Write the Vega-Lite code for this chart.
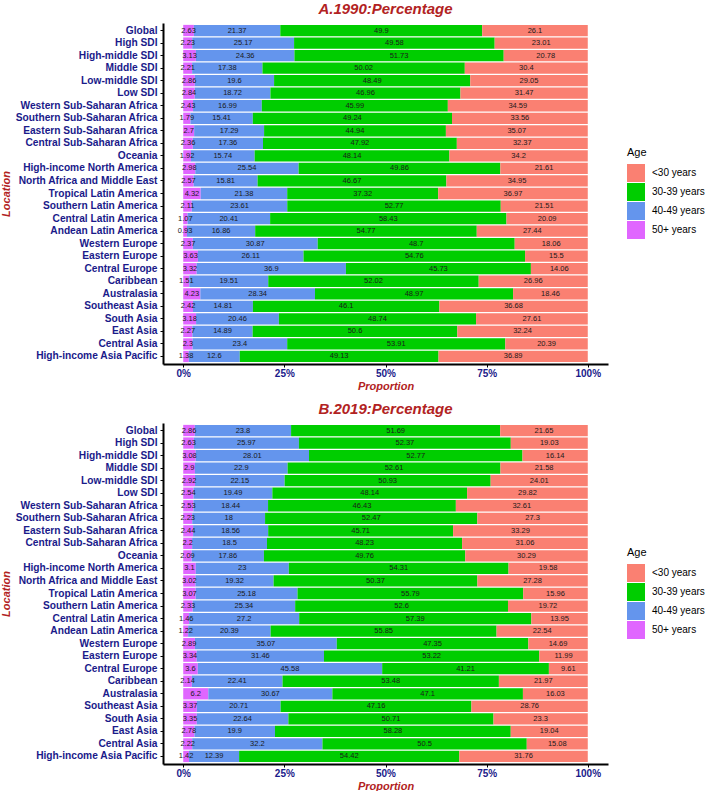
{
  "$schema": "https://vega.github.io/schema/vega-lite/v6.json",
  "background": "white",
  "padding": {"left": 0, "top": 2, "right": 0, "bottom": 0},
  "config": {
    "font": "Liberation Sans",
    "view": {"stroke": null},
    "concat": {"spacing": 11},
    "axis": {
      "grid": false,
      "domainColor": "black",
      "domainWidth": 2,
      "tickColor": "black",
      "tickSize": 3,
      "tickWidth": 1,
      "labelFont": "Liberation Sans",
      "labelFontWeight": "bold",
      "labelColor": "#1A1A8A",
      "labelFontSize": 10,
      "labelPadding": 2,
      "titleFont": "Liberation Sans",
      "titleFontSize": 11,
      "titleFontWeight": "bold",
      "titleFontStyle": "italic",
      "titleColor": "#B22222"
    },
    "axisX": {"labelPadding": 1, "titlePadding": 2},
    "axisY": {"titlePadding": 3, "labelPadding": 3, "labelFontSize": 10.2},
    "title": {"font": "Liberation Sans", "fontSize": 15, "fontWeight": "bold", "fontStyle": "italic", "color": "#B22222", "offset": 6},
    "legend": {
      "orient": "none",
      "legendX": 464,
      "legendY": 124,
      "titleFont": "Liberation Sans",
      "titleFontSize": 11,
      "titleFontWeight": "normal",
      "titleColor": "black",
      "titlePadding": 6,
      "labelFont": "Liberation Sans",
      "labelFontSize": 10,
      "labelColor": "black",
      "labelOffset": 7,
      "symbolType": "square",
      "symbolSize": 324,
      "symbolStrokeWidth": 0,
      "symbolOpacity": 1,
      "rowPadding": 1
    }
  },
  "datasets": {
    "y1990": [
      {"loc": "Global", "age": "50+ years", "pct": 2.63}, {"loc": "Global", "age": "40-49 years", "pct": 21.37}, {"loc": "Global", "age": "30-39 years", "pct": 49.9}, {"loc": "Global", "age": "<30 years", "pct": 26.1},
      {"loc": "High SDI", "age": "50+ years", "pct": 2.23}, {"loc": "High SDI", "age": "40-49 years", "pct": 25.17}, {"loc": "High SDI", "age": "30-39 years", "pct": 49.58}, {"loc": "High SDI", "age": "<30 years", "pct": 23.01},
      {"loc": "High-middle SDI", "age": "50+ years", "pct": 3.13}, {"loc": "High-middle SDI", "age": "40-49 years", "pct": 24.36}, {"loc": "High-middle SDI", "age": "30-39 years", "pct": 51.73}, {"loc": "High-middle SDI", "age": "<30 years", "pct": 20.78},
      {"loc": "Middle SDI", "age": "50+ years", "pct": 2.21}, {"loc": "Middle SDI", "age": "40-49 years", "pct": 17.38}, {"loc": "Middle SDI", "age": "30-39 years", "pct": 50.02}, {"loc": "Middle SDI", "age": "<30 years", "pct": 30.4},
      {"loc": "Low-middle SDI", "age": "50+ years", "pct": 2.86}, {"loc": "Low-middle SDI", "age": "40-49 years", "pct": 19.6}, {"loc": "Low-middle SDI", "age": "30-39 years", "pct": 48.49}, {"loc": "Low-middle SDI", "age": "<30 years", "pct": 29.05},
      {"loc": "Low SDI", "age": "50+ years", "pct": 2.84}, {"loc": "Low SDI", "age": "40-49 years", "pct": 18.72}, {"loc": "Low SDI", "age": "30-39 years", "pct": 46.96}, {"loc": "Low SDI", "age": "<30 years", "pct": 31.47},
      {"loc": "Western Sub-Saharan Africa", "age": "50+ years", "pct": 2.43}, {"loc": "Western Sub-Saharan Africa", "age": "40-49 years", "pct": 16.99}, {"loc": "Western Sub-Saharan Africa", "age": "30-39 years", "pct": 45.99}, {"loc": "Western Sub-Saharan Africa", "age": "<30 years", "pct": 34.59},
      {"loc": "Southern Sub-Saharan Africa", "age": "50+ years", "pct": 1.79}, {"loc": "Southern Sub-Saharan Africa", "age": "40-49 years", "pct": 15.41}, {"loc": "Southern Sub-Saharan Africa", "age": "30-39 years", "pct": 49.24}, {"loc": "Southern Sub-Saharan Africa", "age": "<30 years", "pct": 33.56},
      {"loc": "Eastern Sub-Saharan Africa", "age": "50+ years", "pct": 2.7}, {"loc": "Eastern Sub-Saharan Africa", "age": "40-49 years", "pct": 17.29}, {"loc": "Eastern Sub-Saharan Africa", "age": "30-39 years", "pct": 44.94}, {"loc": "Eastern Sub-Saharan Africa", "age": "<30 years", "pct": 35.07},
      {"loc": "Central Sub-Saharan Africa", "age": "50+ years", "pct": 2.36}, {"loc": "Central Sub-Saharan Africa", "age": "40-49 years", "pct": 17.36}, {"loc": "Central Sub-Saharan Africa", "age": "30-39 years", "pct": 47.92}, {"loc": "Central Sub-Saharan Africa", "age": "<30 years", "pct": 32.37},
      {"loc": "Oceania", "age": "50+ years", "pct": 1.92}, {"loc": "Oceania", "age": "40-49 years", "pct": 15.74}, {"loc": "Oceania", "age": "30-39 years", "pct": 48.14}, {"loc": "Oceania", "age": "<30 years", "pct": 34.2},
      {"loc": "High-income North America", "age": "50+ years", "pct": 2.98}, {"loc": "High-income North America", "age": "40-49 years", "pct": 25.54}, {"loc": "High-income North America", "age": "30-39 years", "pct": 49.86}, {"loc": "High-income North America", "age": "<30 years", "pct": 21.61},
      {"loc": "North Africa and Middle East", "age": "50+ years", "pct": 2.57}, {"loc": "North Africa and Middle East", "age": "40-49 years", "pct": 15.81}, {"loc": "North Africa and Middle East", "age": "30-39 years", "pct": 46.67}, {"loc": "North Africa and Middle East", "age": "<30 years", "pct": 34.95},
      {"loc": "Tropical Latin America", "age": "50+ years", "pct": 4.32}, {"loc": "Tropical Latin America", "age": "40-49 years", "pct": 21.38}, {"loc": "Tropical Latin America", "age": "30-39 years", "pct": 37.32}, {"loc": "Tropical Latin America", "age": "<30 years", "pct": 36.97},
      {"loc": "Southern Latin America", "age": "50+ years", "pct": 2.11}, {"loc": "Southern Latin America", "age": "40-49 years", "pct": 23.61}, {"loc": "Southern Latin America", "age": "30-39 years", "pct": 52.77}, {"loc": "Southern Latin America", "age": "<30 years", "pct": 21.51},
      {"loc": "Central Latin America", "age": "50+ years", "pct": 1.07}, {"loc": "Central Latin America", "age": "40-49 years", "pct": 20.41}, {"loc": "Central Latin America", "age": "30-39 years", "pct": 58.43}, {"loc": "Central Latin America", "age": "<30 years", "pct": 20.09},
      {"loc": "Andean Latin America", "age": "50+ years", "pct": 0.93}, {"loc": "Andean Latin America", "age": "40-49 years", "pct": 16.86}, {"loc": "Andean Latin America", "age": "30-39 years", "pct": 54.77}, {"loc": "Andean Latin America", "age": "<30 years", "pct": 27.44},
      {"loc": "Western Europe", "age": "50+ years", "pct": 2.37}, {"loc": "Western Europe", "age": "40-49 years", "pct": 30.87}, {"loc": "Western Europe", "age": "30-39 years", "pct": 48.7}, {"loc": "Western Europe", "age": "<30 years", "pct": 18.06},
      {"loc": "Eastern Europe", "age": "50+ years", "pct": 3.63}, {"loc": "Eastern Europe", "age": "40-49 years", "pct": 26.11}, {"loc": "Eastern Europe", "age": "30-39 years", "pct": 54.76}, {"loc": "Eastern Europe", "age": "<30 years", "pct": 15.5},
      {"loc": "Central Europe", "age": "50+ years", "pct": 3.32}, {"loc": "Central Europe", "age": "40-49 years", "pct": 36.9}, {"loc": "Central Europe", "age": "30-39 years", "pct": 45.73}, {"loc": "Central Europe", "age": "<30 years", "pct": 14.06},
      {"loc": "Caribbean", "age": "50+ years", "pct": 1.51}, {"loc": "Caribbean", "age": "40-49 years", "pct": 19.51}, {"loc": "Caribbean", "age": "30-39 years", "pct": 52.02}, {"loc": "Caribbean", "age": "<30 years", "pct": 26.96},
      {"loc": "Australasia", "age": "50+ years", "pct": 4.23}, {"loc": "Australasia", "age": "40-49 years", "pct": 28.34}, {"loc": "Australasia", "age": "30-39 years", "pct": 48.97}, {"loc": "Australasia", "age": "<30 years", "pct": 18.46},
      {"loc": "Southeast Asia", "age": "50+ years", "pct": 2.42}, {"loc": "Southeast Asia", "age": "40-49 years", "pct": 14.81}, {"loc": "Southeast Asia", "age": "30-39 years", "pct": 46.1}, {"loc": "Southeast Asia", "age": "<30 years", "pct": 36.68},
      {"loc": "South Asia", "age": "50+ years", "pct": 3.18}, {"loc": "South Asia", "age": "40-49 years", "pct": 20.46}, {"loc": "South Asia", "age": "30-39 years", "pct": 48.74}, {"loc": "South Asia", "age": "<30 years", "pct": 27.61},
      {"loc": "East Asia", "age": "50+ years", "pct": 2.27}, {"loc": "East Asia", "age": "40-49 years", "pct": 14.89}, {"loc": "East Asia", "age": "30-39 years", "pct": 50.6}, {"loc": "East Asia", "age": "<30 years", "pct": 32.24},
      {"loc": "Central Asia", "age": "50+ years", "pct": 2.3}, {"loc": "Central Asia", "age": "40-49 years", "pct": 23.4}, {"loc": "Central Asia", "age": "30-39 years", "pct": 53.91}, {"loc": "Central Asia", "age": "<30 years", "pct": 20.39},
      {"loc": "High-income Asia Pacific", "age": "50+ years", "pct": 1.38}, {"loc": "High-income Asia Pacific", "age": "40-49 years", "pct": 12.6}, {"loc": "High-income Asia Pacific", "age": "30-39 years", "pct": 49.13}, {"loc": "High-income Asia Pacific", "age": "<30 years", "pct": 36.89}
    ],
    "y2019": [
      {"loc": "Global", "age": "50+ years", "pct": 2.86}, {"loc": "Global", "age": "40-49 years", "pct": 23.8}, {"loc": "Global", "age": "30-39 years", "pct": 51.69}, {"loc": "Global", "age": "<30 years", "pct": 21.65},
      {"loc": "High SDI", "age": "50+ years", "pct": 2.63}, {"loc": "High SDI", "age": "40-49 years", "pct": 25.97}, {"loc": "High SDI", "age": "30-39 years", "pct": 52.37}, {"loc": "High SDI", "age": "<30 years", "pct": 19.03},
      {"loc": "High-middle SDI", "age": "50+ years", "pct": 3.08}, {"loc": "High-middle SDI", "age": "40-49 years", "pct": 28.01}, {"loc": "High-middle SDI", "age": "30-39 years", "pct": 52.77}, {"loc": "High-middle SDI", "age": "<30 years", "pct": 16.14},
      {"loc": "Middle SDI", "age": "50+ years", "pct": 2.9}, {"loc": "Middle SDI", "age": "40-49 years", "pct": 22.9}, {"loc": "Middle SDI", "age": "30-39 years", "pct": 52.61}, {"loc": "Middle SDI", "age": "<30 years", "pct": 21.58},
      {"loc": "Low-middle SDI", "age": "50+ years", "pct": 2.92}, {"loc": "Low-middle SDI", "age": "40-49 years", "pct": 22.15}, {"loc": "Low-middle SDI", "age": "30-39 years", "pct": 50.93}, {"loc": "Low-middle SDI", "age": "<30 years", "pct": 24.01},
      {"loc": "Low SDI", "age": "50+ years", "pct": 2.54}, {"loc": "Low SDI", "age": "40-49 years", "pct": 19.49}, {"loc": "Low SDI", "age": "30-39 years", "pct": 48.14}, {"loc": "Low SDI", "age": "<30 years", "pct": 29.82},
      {"loc": "Western Sub-Saharan Africa", "age": "50+ years", "pct": 2.53}, {"loc": "Western Sub-Saharan Africa", "age": "40-49 years", "pct": 18.44}, {"loc": "Western Sub-Saharan Africa", "age": "30-39 years", "pct": 46.43}, {"loc": "Western Sub-Saharan Africa", "age": "<30 years", "pct": 32.61},
      {"loc": "Southern Sub-Saharan Africa", "age": "50+ years", "pct": 2.23}, {"loc": "Southern Sub-Saharan Africa", "age": "40-49 years", "pct": 18}, {"loc": "Southern Sub-Saharan Africa", "age": "30-39 years", "pct": 52.47}, {"loc": "Southern Sub-Saharan Africa", "age": "<30 years", "pct": 27.3},
      {"loc": "Eastern Sub-Saharan Africa", "age": "50+ years", "pct": 2.44}, {"loc": "Eastern Sub-Saharan Africa", "age": "40-49 years", "pct": 18.56}, {"loc": "Eastern Sub-Saharan Africa", "age": "30-39 years", "pct": 45.71}, {"loc": "Eastern Sub-Saharan Africa", "age": "<30 years", "pct": 33.29},
      {"loc": "Central Sub-Saharan Africa", "age": "50+ years", "pct": 2.2}, {"loc": "Central Sub-Saharan Africa", "age": "40-49 years", "pct": 18.5}, {"loc": "Central Sub-Saharan Africa", "age": "30-39 years", "pct": 48.23}, {"loc": "Central Sub-Saharan Africa", "age": "<30 years", "pct": 31.06},
      {"loc": "Oceania", "age": "50+ years", "pct": 2.09}, {"loc": "Oceania", "age": "40-49 years", "pct": 17.86}, {"loc": "Oceania", "age": "30-39 years", "pct": 49.76}, {"loc": "Oceania", "age": "<30 years", "pct": 30.29},
      {"loc": "High-income North America", "age": "50+ years", "pct": 3.1}, {"loc": "High-income North America", "age": "40-49 years", "pct": 23}, {"loc": "High-income North America", "age": "30-39 years", "pct": 54.31}, {"loc": "High-income North America", "age": "<30 years", "pct": 19.58},
      {"loc": "North Africa and Middle East", "age": "50+ years", "pct": 3.02}, {"loc": "North Africa and Middle East", "age": "40-49 years", "pct": 19.32}, {"loc": "North Africa and Middle East", "age": "30-39 years", "pct": 50.37}, {"loc": "North Africa and Middle East", "age": "<30 years", "pct": 27.28},
      {"loc": "Tropical Latin America", "age": "50+ years", "pct": 3.07}, {"loc": "Tropical Latin America", "age": "40-49 years", "pct": 25.18}, {"loc": "Tropical Latin America", "age": "30-39 years", "pct": 55.79}, {"loc": "Tropical Latin America", "age": "<30 years", "pct": 15.96},
      {"loc": "Southern Latin America", "age": "50+ years", "pct": 2.33}, {"loc": "Southern Latin America", "age": "40-49 years", "pct": 25.34}, {"loc": "Southern Latin America", "age": "30-39 years", "pct": 52.6}, {"loc": "Southern Latin America", "age": "<30 years", "pct": 19.72},
      {"loc": "Central Latin America", "age": "50+ years", "pct": 1.46}, {"loc": "Central Latin America", "age": "40-49 years", "pct": 27.2}, {"loc": "Central Latin America", "age": "30-39 years", "pct": 57.39}, {"loc": "Central Latin America", "age": "<30 years", "pct": 13.95},
      {"loc": "Andean Latin America", "age": "50+ years", "pct": 1.22}, {"loc": "Andean Latin America", "age": "40-49 years", "pct": 20.39}, {"loc": "Andean Latin America", "age": "30-39 years", "pct": 55.85}, {"loc": "Andean Latin America", "age": "<30 years", "pct": 22.54},
      {"loc": "Western Europe", "age": "50+ years", "pct": 2.89}, {"loc": "Western Europe", "age": "40-49 years", "pct": 35.07}, {"loc": "Western Europe", "age": "30-39 years", "pct": 47.35}, {"loc": "Western Europe", "age": "<30 years", "pct": 14.69},
      {"loc": "Eastern Europe", "age": "50+ years", "pct": 3.34}, {"loc": "Eastern Europe", "age": "40-49 years", "pct": 31.46}, {"loc": "Eastern Europe", "age": "30-39 years", "pct": 53.22}, {"loc": "Eastern Europe", "age": "<30 years", "pct": 11.99},
      {"loc": "Central Europe", "age": "50+ years", "pct": 3.6}, {"loc": "Central Europe", "age": "40-49 years", "pct": 45.58}, {"loc": "Central Europe", "age": "30-39 years", "pct": 41.21}, {"loc": "Central Europe", "age": "<30 years", "pct": 9.61},
      {"loc": "Caribbean", "age": "50+ years", "pct": 2.14}, {"loc": "Caribbean", "age": "40-49 years", "pct": 22.41}, {"loc": "Caribbean", "age": "30-39 years", "pct": 53.48}, {"loc": "Caribbean", "age": "<30 years", "pct": 21.97},
      {"loc": "Australasia", "age": "50+ years", "pct": 6.2}, {"loc": "Australasia", "age": "40-49 years", "pct": 30.67}, {"loc": "Australasia", "age": "30-39 years", "pct": 47.1}, {"loc": "Australasia", "age": "<30 years", "pct": 16.03},
      {"loc": "Southeast Asia", "age": "50+ years", "pct": 3.37}, {"loc": "Southeast Asia", "age": "40-49 years", "pct": 20.71}, {"loc": "Southeast Asia", "age": "30-39 years", "pct": 47.16}, {"loc": "Southeast Asia", "age": "<30 years", "pct": 28.76},
      {"loc": "South Asia", "age": "50+ years", "pct": 3.35}, {"loc": "South Asia", "age": "40-49 years", "pct": 22.64}, {"loc": "South Asia", "age": "30-39 years", "pct": 50.71}, {"loc": "South Asia", "age": "<30 years", "pct": 23.3},
      {"loc": "East Asia", "age": "50+ years", "pct": 2.78}, {"loc": "East Asia", "age": "40-49 years", "pct": 19.9}, {"loc": "East Asia", "age": "30-39 years", "pct": 58.28}, {"loc": "East Asia", "age": "<30 years", "pct": 19.04},
      {"loc": "Central Asia", "age": "50+ years", "pct": 2.22}, {"loc": "Central Asia", "age": "40-49 years", "pct": 32.2}, {"loc": "Central Asia", "age": "30-39 years", "pct": 50.5}, {"loc": "Central Asia", "age": "<30 years", "pct": 15.08},
      {"loc": "High-income Asia Pacific", "age": "50+ years", "pct": 1.42}, {"loc": "High-income Asia Pacific", "age": "40-49 years", "pct": 12.39}, {"loc": "High-income Asia Pacific", "age": "30-39 years", "pct": 54.42}, {"loc": "High-income Asia Pacific", "age": "<30 years", "pct": 31.76}
    ]
  },
  "vconcat": [
    {
      "title": "A.1990:Percentage",
      "width": 445,
      "height": 341,
      "data": {"name": "y1990"},
      "transform": [
        {"calculate": "indexof(['50+ years','40-49 years','30-39 years','<30 years'], datum.age)", "as": "ord"},
        {"stack": "pct", "groupby": ["loc"], "sort": [{"field": "ord", "order": "ascending"}], "offset": "normalize", "as": ["x0", "x1"]},
        {"calculate": "(datum.x0 + datum.x1) / 2", "as": "mid"}
      ],
      "encoding": {
        "y": {"field": "loc", "type": "nominal", "sort": null, "title": "Location", "scale": {"paddingInner": 0.1, "paddingOuter": 0.15}}
      },
      "layer": [
        {
          "mark": {"type": "bar"},
          "encoding": {
            "x": {"field": "x0", "type": "quantitative", "title": "Proportion", "scale": {"domain": [-0.05, 1.05], "nice": false, "zero": false}, "axis": {"values": [0, 0.25, 0.5, 0.75, 1], "format": ".0%"}},
            "x2": {"field": "x1"},
            "color": {"field": "age", "type": "nominal", "title": "Age", "scale": {"domain": ["<30 years", "30-39 years", "40-49 years", "50+ years"], "range": ["#FA8072", "#00CD00", "#6495ED", "#E066FF"]}}
          }
        },
        {
          "mark": {"type": "text", "fontSize": 7.5, "color": "#1a1a1a", "font": "Liberation Sans"},
          "encoding": {
            "x": {"field": "mid", "type": "quantitative", "title": "Proportion", "scale": {"domain": [-0.05, 1.05], "nice": false, "zero": false}},
            "text": {"field": "pct", "type": "nominal"}
          }
        }
      ]
    },
    {
      "title": "B.2019:Percentage",
      "width": 445,
      "height": 341,
      "data": {"name": "y2019"},
      "transform": [
        {"calculate": "indexof(['50+ years','40-49 years','30-39 years','<30 years'], datum.age)", "as": "ord"},
        {"stack": "pct", "groupby": ["loc"], "sort": [{"field": "ord", "order": "ascending"}], "offset": "normalize", "as": ["x0", "x1"]},
        {"calculate": "(datum.x0 + datum.x1) / 2", "as": "mid"}
      ],
      "encoding": {
        "y": {"field": "loc", "type": "nominal", "sort": null, "title": "Location", "scale": {"paddingInner": 0.1, "paddingOuter": 0.15}}
      },
      "layer": [
        {
          "mark": {"type": "bar"},
          "encoding": {
            "x": {"field": "x0", "type": "quantitative", "title": "Proportion", "scale": {"domain": [-0.05, 1.05], "nice": false, "zero": false}, "axis": {"values": [0, 0.25, 0.5, 0.75, 1], "format": ".0%"}},
            "x2": {"field": "x1"},
            "color": {"field": "age", "type": "nominal", "title": "Age", "scale": {"domain": ["<30 years", "30-39 years", "40-49 years", "50+ years"], "range": ["#FA8072", "#00CD00", "#6495ED", "#E066FF"]}}
          }
        },
        {
          "mark": {"type": "text", "fontSize": 7.5, "color": "#1a1a1a", "font": "Liberation Sans"},
          "encoding": {
            "x": {"field": "mid", "type": "quantitative", "title": "Proportion", "scale": {"domain": [-0.05, 1.05], "nice": false, "zero": false}},
            "text": {"field": "pct", "type": "nominal"}
          }
        }
      ]
    }
  ],
  "resolve": {"scale": {"color": "independent"}, "legend": {"color": "independent"}}
}
